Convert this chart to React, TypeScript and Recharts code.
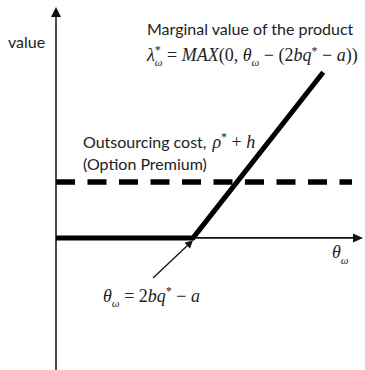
import React from "react";
import { LineChart, Line, XAxis, YAxis, ReferenceLine } from "recharts";

// theta (x) vs value (y), kink of the payoff set to theta = 1, premium = 1
const payoffPoints = [
  { x: 0, y: 0 },
  { x: 1, y: 0 },
  { x: 1.95, y: 2.96 },
];
const premiumPoints = [
  { x: 0, y: 1 },
  { x: 2.16, y: 1 },
];
const xDomain = [0, 2.24];
const yDomain = [-2.36, 4.125];
const kinkPointer = [
  { x: 0.708, y: -0.716 },
  { x: 1.0, y: -0.04 },
];

const W = 365;
const H = 370;
const serif = "'Liberation Serif', 'Times New Roman', serif";
const sans = "Lato, 'Open Sans', sans-serif";

const arrowShape =
  (head: number, half: number, width: number) => (props: any) => {
    const { x1, y1, x2, y2 } = props;
    const dx = x2 - x1;
    const dy = y2 - y1;
    const len = Math.sqrt(dx * dx + dy * dy) || 1;
    const ux = dx / len;
    const uy = dy / len;
    const bx = x2 - ux * head;
    const by = y2 - uy * head;
    const pts = [
      `${x2},${y2}`,
      `${bx - uy * half},${by + ux * half}`,
      `${bx + uy * half},${by - ux * half}`,
    ].join(" ");
    return (
      <g>
        <line x1={x1} y1={y1} x2={bx + ux * 1} y2={by + uy * 1} stroke="#111" strokeWidth={width} />
        <polygon points={pts} fill="#111" />
      </g>
    );
  };

const Labels = () => (
  <svg
    width={W}
    height={H}
    style={{ position: "absolute", left: 0, top: 0, pointerEvents: "none" }}
  >
    <text x={8} y={48} fontFamily={sans} fontSize={16} fill="#222">
      value
    </text>
    <text x={147} y={35} fontFamily={sans} fontSize={16} fill="#222">
      Marginal value of the product
    </text>
    <text x={147} y={61} fontFamily={serif} fontSize={18} fill="#222">
      <tspan fontStyle="italic">λ</tspan>
      <tspan fontSize={12} dy={-7}>*</tspan>
      <tspan fontSize={11} fontStyle="italic" dx={-6} dy={12}>ω</tspan>
      <tspan dy={-5}>{"\u00a0=\u00a0"}</tspan>
      <tspan fontStyle="italic">MAX</tspan>
      <tspan>(0,&nbsp;</tspan>
      <tspan fontStyle="italic">θ</tspan>
      <tspan fontSize={11} fontStyle="italic" dy={5}>ω</tspan>
      <tspan dy={-5}>{"\u00a0−\u00a0(2"}</tspan>
      <tspan fontStyle="italic">bq</tspan>
      <tspan fontSize={12} dy={-6}>*</tspan>
      <tspan dy={6}>{"\u00a0−\u00a0"}</tspan>
      <tspan fontStyle="italic">a</tspan>
      <tspan>))</tspan>
    </text>
    <text x={83} y={148} fontFamily={sans} fontSize={16} fill="#222">
      <tspan>Outsourcing cost,</tspan>
      <tspan fontFamily={serif} fontSize={18} dx={6} fontStyle="italic">ρ</tspan>
      <tspan fontFamily={serif} fontSize={12} dy={-7}>*</tspan>
      <tspan fontFamily={serif} fontSize={18} dy={7}>{"\u00a0+\u00a0"}</tspan>
      <tspan fontFamily={serif} fontSize={18} fontStyle="italic">h</tspan>
    </text>
    <text x={83} y={170} fontFamily={sans} fontSize={16} fill="#222">
      (Option Premium)
    </text>
    <text x={332} y={258} fontFamily={serif} fontSize={18} fill="#222">
      <tspan fontStyle="italic">θ</tspan>
      <tspan fontSize={11} fontStyle="italic" dy={6}>ω</tspan>
    </text>
    <text x={103} y={302} fontFamily={serif} fontSize={18} fill="#222">
      <tspan fontStyle="italic">θ</tspan>
      <tspan fontSize={11} fontStyle="italic" dy={5}>ω</tspan>
      <tspan dy={-5}>{"\u00a0=\u00a02"}</tspan>
      <tspan fontStyle="italic">bq</tspan>
      <tspan fontSize={12} dy={-7}>*</tspan>
      <tspan dy={7}>{"\u00a0−\u00a0"}</tspan>
      <tspan fontStyle="italic">a</tspan>
    </text>
  </svg>
);

export default function App() {
  return (
    <div
      style={{
        position: "fixed",
        left: 0,
        top: 0,
        width: W,
        height: H,
        background: "#fff",
      }}
    >
      <LineChart
        width={W}
        height={H}
        margin={{ top: 7, right: 2, bottom: 0, left: 56 }}
      >
        <XAxis
          type="number"
          dataKey="x"
          domain={xDomain}
          allowDataOverflow
          hide
        />
        <YAxis type="number" domain={yDomain} allowDataOverflow hide />
        <ReferenceLine
          segment={[
            { x: 0, y: yDomain[0] },
            { x: 0, y: yDomain[1] },
          ]}
          ifOverflow="visible"
          shape={arrowShape(10, 5, 1.5)}
        />
        <ReferenceLine
          segment={[
            { x: 0, y: 0 },
            { x: xDomain[1], y: 0 },
          ]}
          ifOverflow="visible"
          shape={arrowShape(10, 4.5, 1.8)}
        />
        <ReferenceLine
          segment={kinkPointer}
          ifOverflow="visible"
          shape={arrowShape(8, 4, 1.3)}
        />
        <Line
          data={premiumPoints}
          dataKey="y"
          type="linear"
          stroke="#000"
          strokeWidth={5.5}
          strokeDasharray="19 12.5"
          dot={false}
          isAnimationActive={false}
        />
        <Line
          data={payoffPoints}
          dataKey="y"
          type="linear"
          stroke="#000"
          strokeWidth={5}
          strokeLinejoin="miter"
          dot={false}
          isAnimationActive={false}
        />
      </LineChart>
      <Labels />
    </div>
  );
}
